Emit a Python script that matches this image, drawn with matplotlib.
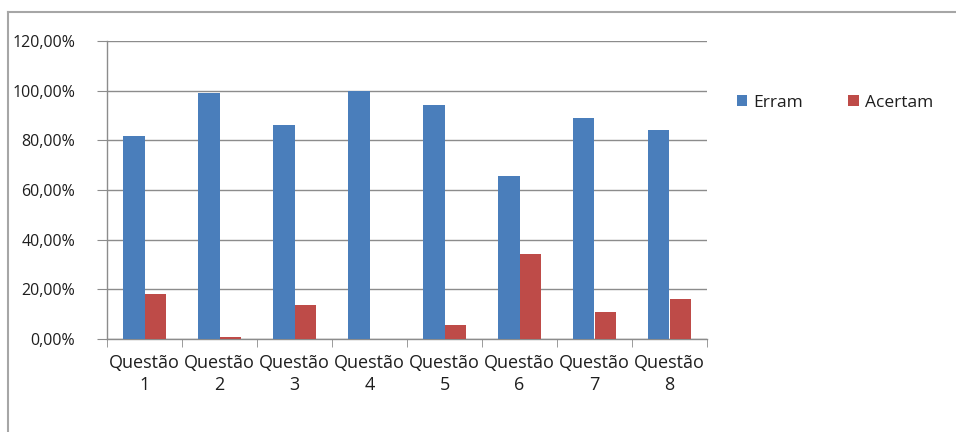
import matplotlib
matplotlib.use("Agg")
import matplotlib.pyplot as plt
from matplotlib.lines import Line2D
from matplotlib.ticker import FuncFormatter, MultipleLocator
import numpy as np

categories = ["Questão\n1", "Questão\n2", "Questão\n3", "Questão\n4",
              "Questão\n5", "Questão\n6", "Questão\n7", "Questão\n8"]
erram = [81.8, 99.2, 86.2, 100.0, 94.2, 65.6, 89.0, 84.0]
acertam = [18.2, 0.8, 13.8, 0.0, 5.8, 34.4, 11.0, 16.0]

W, H = 956, 432
plt.rcParams["font.family"] = ["Open Sans", "DejaVu Sans"]
fig = plt.figure(figsize=(W / 100, H / 100), dpi=100)
fig.patch.set_facecolor("white")

# plot area in pixels: x 107..707, y 41..339
ax = fig.add_axes([107 / W, 1 - 339 / H, 600 / W, 298 / H])

x = np.arange(len(categories))
bw = 0.287
b1 = ax.bar(x - bw / 2, erram, bw, color="#4A7EBB", label="Erram", zorder=3)
b2 = ax.bar(x + bw / 2, acertam, bw, color="#BE4B48", label="Acertam", zorder=3)

ax.set_xlim(-0.5, len(categories) - 0.5)
ax.set_ylim(0, 120)
ax.yaxis.set_major_locator(MultipleLocator(20))
ax.yaxis.set_major_formatter(FuncFormatter(lambda v, p: f"{v:.2f}%".replace(".", ",")))
ax.grid(axis="y", color="#8C8C8C", linewidth=1.0, zorder=0)

for s in ["top", "right"]:
    ax.spines[s].set_visible(False)
for s in ["left", "bottom"]:
    ax.spines[s].set_color("#8C8C8C")
    ax.spines[s].set_linewidth(1.0)

ax.set_xticks(x)
ax.set_xticklabels(categories, fontsize=13, color="#1E1E1E", linespacing=1.3)
ax.set_xticks(np.arange(-0.5, len(categories)), minor=True)
ax.tick_params(axis="x", which="major", length=0, pad=11)
ax.tick_params(axis="x", which="minor", length=6, color="#8C8C8C", direction="out")
ax.tick_params(axis="y", length=7, color="#8C8C8C", labelsize=11.5,
               labelcolor="#1E1E1E", pad=16)

leg = fig.legend(handles=[b1, b2], labels=["Erram", "Acertam"],
                 loc="center left", bbox_to_anchor=(737 / W, 1 - 103 / H),
                 ncol=2, frameon=False, fontsize=12.5, handlelength=0.6,
                 handleheight=0.6, handletextpad=0.35, columnspacing=2.6,
                 borderaxespad=0, borderpad=0)
for t in leg.get_texts():
    t.set_color("#1E1E1E")

# chart frame: top and left edges
fig.add_artist(Line2D([8 / W, 1], [1 - 12 / H, 1 - 12 / H],
                      transform=fig.transFigure, color="#A6A6A6", linewidth=1.5))
fig.add_artist(Line2D([8 / W, 8 / W], [0, 1 - 12 / H],
                      transform=fig.transFigure, color="#A6A6A6", linewidth=1.5))

fig.savefig("out.png", dpi=100, facecolor="white")
